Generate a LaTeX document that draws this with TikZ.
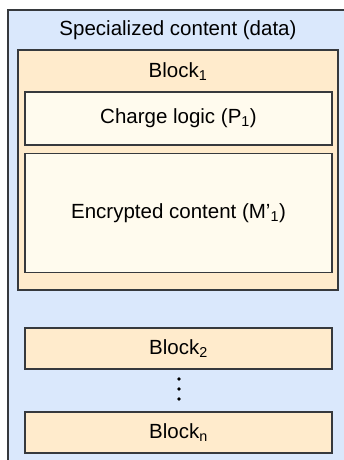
\documentclass[tikz,border=0pt]{standalone}
\usepackage{fontspec}
\setmainfont{Liberation Sans}
\usetikzlibrary{positioning}
\definecolor{outerfill}{HTML}{DAE8FC}
\definecolor{blockfill}{HTML}{FFEBCC}
\definecolor{innerfill}{HTML}{FFFBEE}
\definecolor{edgegray}{HTML}{36393D}

\begin{document}
\begin{tikzpicture}[x=1pt,y=-1pt]
		\tikzstyle{every node}=[font=\fontsize{20.5}{24}\selectfont, text=black]
		\tikzset{
			blockbox/.style={draw=edgegray, line width=1.3pt, fill=blockfill, inner sep=0pt},
			partbox/.style={draw=edgegray, line width=1.3pt, fill=innerfill, inner sep=0pt},
			dot/.style={circle, fill=black, inner sep=0pt, minimum size=3.8pt}
		}
		\useasboundingbox (0,0) rectangle (344,460);
		% outer container (runs off the right and bottom edges)
		\draw [draw=edgegray, line width=1.3pt, fill=outerfill] (8,10) rectangle (352,470);
		\node (title) at (178,30) {Specialized content (data)};
		% first block with its two parts
		\node [blockbox, minimum width=320pt, minimum height=240pt] (block1) at (178,170) {};
		\node (block1label) at (178,72) {Block\textsubscript{1}};
		\node [partbox, minimum width=307pt, minimum height=53pt] (charge) at (178.5,118.5) {Charge logic (P\textsubscript{1})};
		\node [partbox, minimum width=307pt, minimum height=119pt] (encrypted) at (178.5,213) {Encrypted content (M’\textsubscript{1})};
		% remaining blocks
		\node [blockbox, minimum width=307pt, minimum height=41pt] (block2) at (178.5,348.5) {Block\textsubscript{2}};
		\node [dot] (dot1) at (179,379) {};
		\node [dot] (dot2) at (179,389) {};
		\node [dot] (dot3) at (179,399) {};
		\node [blockbox, minimum width=307pt, minimum height=41pt] (blockn) at (178.5,432.5) {Block\textsubscript{n}};
	\end{tikzpicture}
\end{document}
